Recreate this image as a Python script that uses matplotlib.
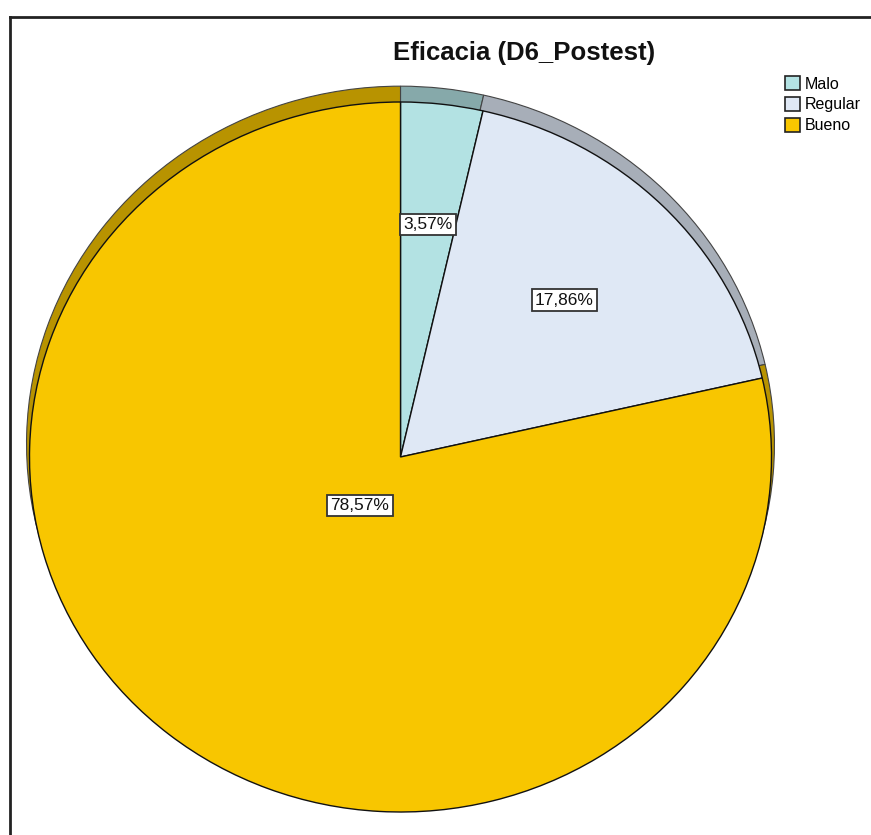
import numpy as np
import matplotlib.pyplot as plt
from matplotlib.lines import Line2D
from matplotlib.patches import Patch

plt.rcParams['font.family'] = ['Liberation Sans', 'DejaVu Sans']

title = 'Eficacia (D6_Postest)'
categories = ['Malo', 'Regular', 'Bueno']
percents = [3.57, 17.86, 78.57]
face_colors = ['#B3E2E3', '#DFE8F5', '#F8C600']
rim_colors = ['#86A9AA', '#A7AEB8', '#B89300']


def main():
    W, H = 871, 835
    fig = plt.figure(figsize=(W / 100, H / 100), dpi=100)

    # frame lines at left and top, as in the viewer screenshot
    fig.add_artist(Line2D([10 / W, 10 / W], [0, 1 - 17 / H], transform=fig.transFigure,
                          color='#222222', lw=2))
    fig.add_artist(Line2D([10 / W, 1], [1 - 17 / H, 1 - 17 / H], transform=fig.transFigure,
                          color='#222222', lw=2))

    # pie is a slightly flattened ellipse: half-width 371 px, half-height 355 px
    a, b = 371, 355
    cx, cy = 400.5, 457
    ax = fig.add_axes([(cx - a) / W, (H - cy - b) / H, 2 * a / W, 2 * b / H])

    # back rim (3D thickness) drawn as a darker pie shifted upward
    ax.pie(percents, colors=rim_colors, startangle=90, counterclock=False,
           radius=1.008, center=(0, 13 / b),
           wedgeprops=dict(edgecolor='#444444', linewidth=0.8))
    ax.pie(percents, colors=face_colors, startangle=90, counterclock=False,
           radius=1.0, wedgeprops=dict(edgecolor='#111111', linewidth=1.0))
    ax.set_xlim(-1, 1)
    ax.set_ylim(-1, 1)
    ax.set_aspect('auto')
    ax.axis('off')

    # percentage labels
    label_r = [0.66, 0.625, 0.175]
    cum = np.cumsum([0] + percents)
    for i, p in enumerate(percents):
        mid = np.deg2rad(90 - (cum[i] + p / 2) * 3.6)
        txt = ('%.2f%%' % p).replace('.', ',')
        ax.text(label_r[i] * np.cos(mid), label_r[i] * np.sin(mid), txt,
                ha='center', va='center', fontsize=12.5, color='#111111',
                bbox=dict(boxstyle='square,pad=0.18', fc='white', ec='#333333', lw=1.3))

    fig.text(524 / W, 1 - 53 / H, title, ha='center', va='center',
             fontsize=18.5, fontweight='bold', color='#111111')

    handles = [Patch(facecolor=c, edgecolor='#222222', linewidth=1.2) for c in face_colors]
    fig.legend(handles, categories, loc='upper left', bbox_to_anchor=(777 / W, 1 - 68 / H),
               frameon=False, fontsize=11.5, handlelength=0.95, handleheight=1.0,
               handletextpad=0.3, labelspacing=0.33, borderpad=0)

    fig.savefig('out.png', dpi=100)


if __name__ == "__main__":
    main()
